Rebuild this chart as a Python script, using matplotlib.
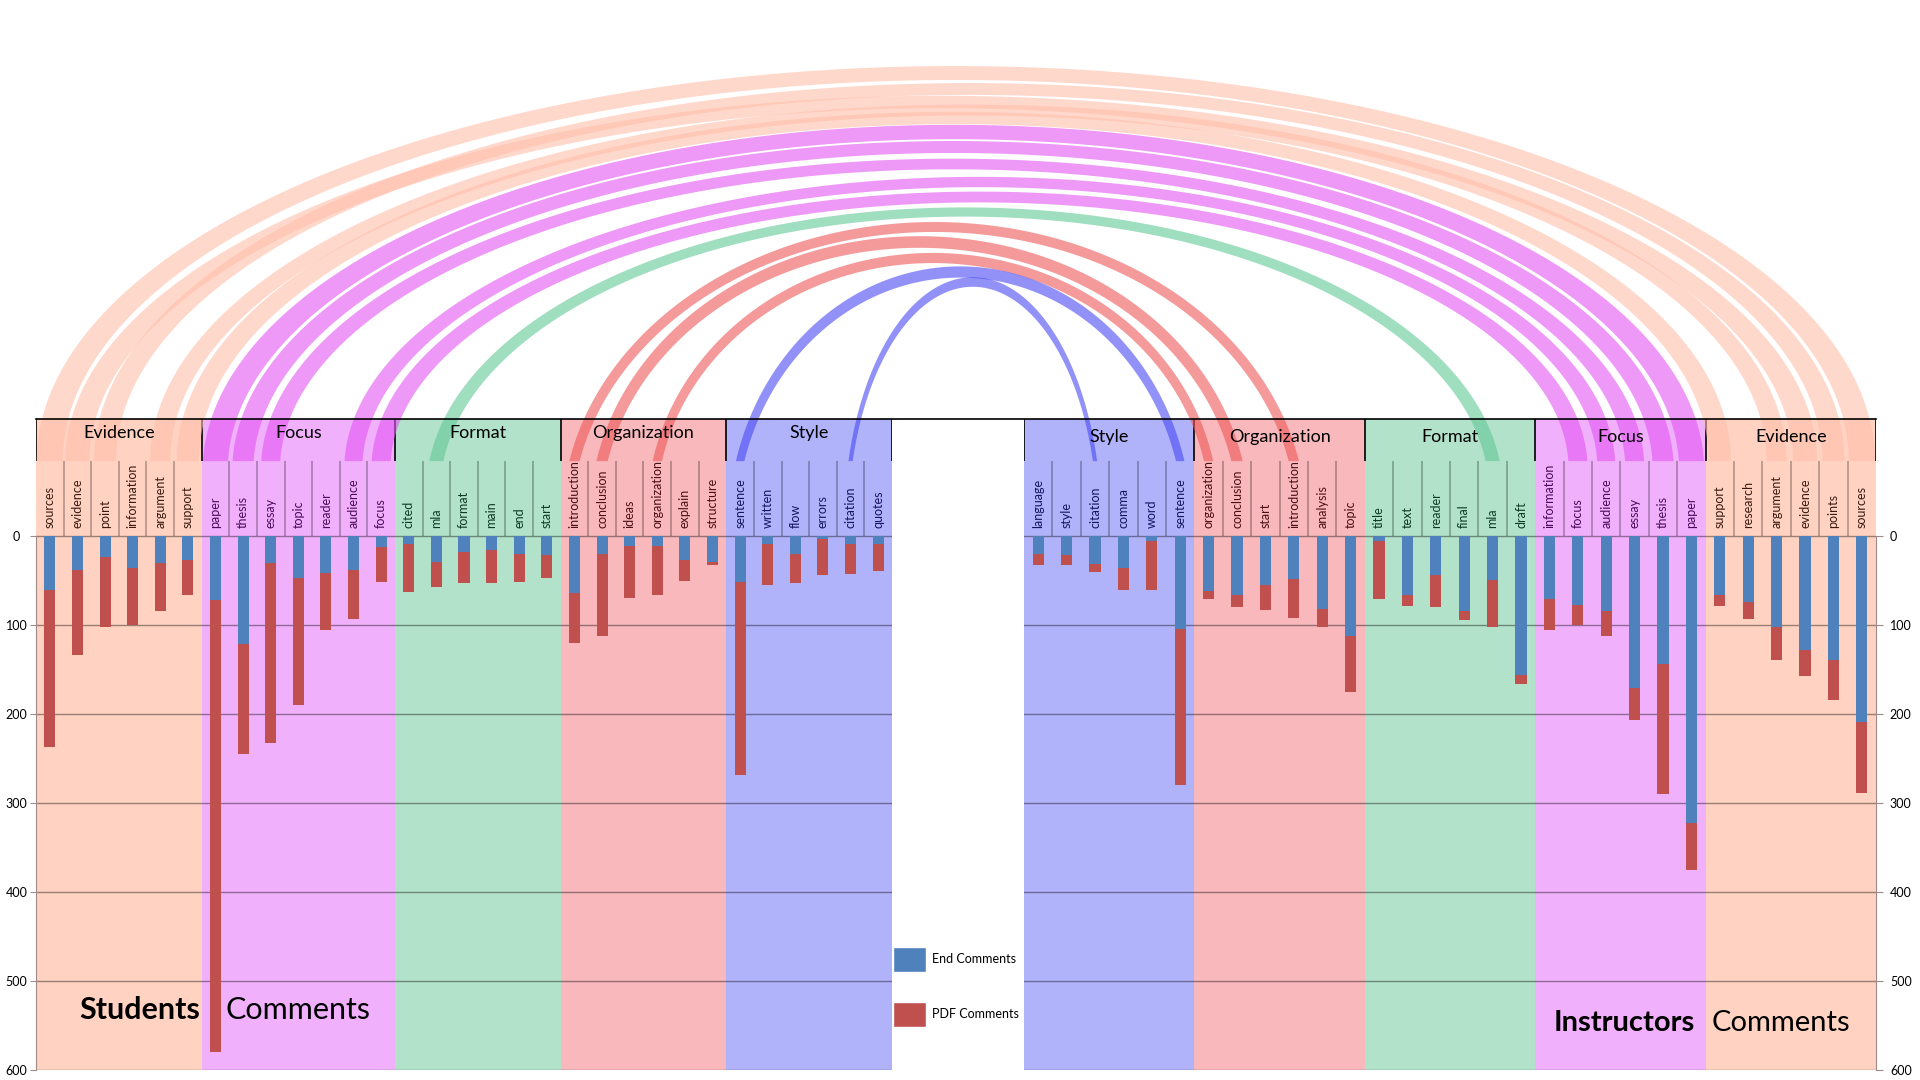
import numpy as np
import matplotlib.pyplot as plt
from matplotlib.patches import Patch, Polygon

plt.rcParams['font.family'] = ['Lato', 'DejaVu Sans']

# ---- students (left panel)
stu_groups = ['Evidence', 'Focus', 'Format', 'Organization', 'Style']
stu_words = [
    ['sources', 'evidence', 'point', 'information', 'argument', 'support'],
    ['paper', 'thesis', 'essay', 'topic', 'reader', 'audience', 'focus'],
    ['cited', 'mla', 'format', 'main', 'end', 'start'],
    ['introduction', 'conclusion', 'ideas', 'organization', 'explain', 'structure'],
    ['sentence', 'written', 'flow', 'errors', 'citation', 'quotes'],
]
stu_end = [61, 38, 24, 36, 31, 27,
           72, 122, 30, 47, 42, 38, 12,
           9, 29, 18, 16, 20, 22,
           64, 20, 11, 11, 27, 29,
           52, 9, 20, 3, 9, 9]
stu_pdf = [176, 96, 79, 64, 53, 40,
           508, 123, 203, 143, 64, 56, 40,
           54, 28, 35, 37, 32, 25,
           56, 93, 59, 55, 24, 4,
           217, 46, 33, 41, 34, 30]

# ---- instructors (right panel)
ins_groups = ['Style', 'Organization', 'Format', 'Focus', 'Evidence']
ins_words = [
    ['language', 'style', 'citation', 'comma', 'word', 'sentence'],
    ['organization', 'conclusion', 'start', 'introduction', 'analysis', 'topic'],
    ['title', 'text', 'reader', 'final', 'mla', 'draft'],
    ['information', 'focus', 'audience', 'essay', 'thesis', 'paper'],
    ['support', 'research', 'argument', 'evidence', 'points', 'sources'],
]
ins_end = [20, 22, 32, 36, 6, 105,
           62, 67, 55, 49, 82, 112,
           6, 67, 44, 84, 50, 156,
           71, 78, 84, 171, 144, 323,
           67, 74, 102, 128, 140, 209]
ins_pdf = [13, 11, 9, 25, 55, 175,
           9, 13, 28, 43, 21, 63,
           65, 12, 36, 11, 52, 11,
           35, 22, 29, 36, 146, 53,
           12, 19, 37, 29, 45, 80]

# ---- shared words linked by arcs
arc_group = ['Evidence'] * 5 + ['Focus'] * 5 + ['Format'] + ['Organization'] * 3 + ['Style'] * 2
arc_left = ['sources', 'evidence', 'point', 'argument', 'support',
            'paper', 'thesis', 'essay', 'audience', 'focus',
            'mla', 'introduction', 'conclusion', 'organization',
            'sentence', 'citation']
arc_right = ['sources', 'evidence', 'points', 'argument', 'support',
             'paper', 'thesis', 'essay', 'audience', 'focus',
             'mla', 'introduction', 'conclusion', 'organization',
             'sentence', 'citation']
arc_peak = [73, 102, 89, 110, 118, 132, 147, 164, 182, 197, 212, 227, 242, 258, 272, 282]
arc_width = [26, 24, 22, 20, 22, 25, 21, 19, 18, 19, 14, 10, 11, 9, 8, 4]

bg = {'Evidence': '#FFD2C2', 'Focus': '#F0B0FC', 'Format': '#B2E2CA',
      'Organization': '#F8B8BC', 'Style': '#B0B2FA'}
txt_c = {'Evidence': '#3a1a10', 'Focus': '#4a0a5a', 'Format': '#0f3a22',
         'Organization': '#4a0f14', 'Style': '#151560'}
arc_c = {'Evidence': '#FFBEAA', 'Focus': '#E353F3', 'Format': '#61C896',
         'Organization': '#EE5757', 'Style': '#4848F3'}
arc_drop = {'Evidence': 0.0, 'Focus': 0.03, 'Format': 0.12,
            'Organization': 0.25, 'Style': 0.35}
BLUE = '#4F81BD'
RED = '#C0504D'
HEAD_TOP = -131
CAT_BOT = -84

W, H = 1920, 1080
fig = plt.figure(figsize=(19.2, 10.8), dpi=100)


def box(x0, x1, ytop, ybot):
    return [x0 / W, 1 - ybot / H, (x1 - x0) / W, (ybot - ytop) / H]


ax_l = fig.add_axes(box(36, 892, 419.3, 1069.7))
ax_r = fig.add_axes(box(1024, 1876, 419.3, 1069.7))


def draw_panel(ax, groups, words, end, pdf, side):
    n = sum(len(w) for w in words)
    ax.set_xlim(0, n)
    ax.set_ylim(600, HEAD_TOP)
    x = np.arange(n) + 0.5
    i0 = 0
    bounds = [0]
    for g, ws in zip(groups, words):
        i1 = i0 + len(ws)
        ax.axvspan(i0, i1, color=bg[g], lw=0, zorder=0)
        ax.vlines(np.arange(i0 + 1, i1), CAT_BOT, 0, color='k', alpha=0.3, lw=1.2, zorder=1)
        for k, w in enumerate(ws):
            ax.text(i0 + k + 0.5, -9, w, rotation=90, ha='center', va='bottom',
                    fontsize=9, color=txt_c[g], zorder=2)
        bounds.append(i1)
        i0 = i1
    ax.vlines(bounds, HEAD_TOP, CAT_BOT, color='k', lw=1.2, zorder=6)
    ax.bar(x, end, width=0.4, color=BLUE, zorder=3)
    ax.bar(x, pdf, bottom=end, width=0.4, color=RED, zorder=3)

    ax.set_yticks(range(0, 700, 100))
    ax.set_xticks([])
    ax.yaxis.grid(True, color='k', alpha=0.4, lw=1)
    ax.set_axisbelow(True)
    for s in ax.spines.values():
        s.set_visible(False)
    spine = ax.spines[side]
    spine.set_visible(True)
    spine.set_bounds(0, 600)
    spine.set_color('#a08a8a')
    if side == 'left':
        ax.tick_params(axis='y', length=4, color='#a08a8a', pad=10, labelsize=9)
        for lbl in ax.get_yticklabels():
            lbl.set_ha('center')
    else:
        ax.yaxis.tick_right()
        ax.tick_params(axis='y', length=5, color='#a08a8a', pad=5, labelsize=9)
    return bounds


b_l = draw_panel(ax_l, stu_groups, stu_words, stu_end, stu_pdf, 'left')
b_r = draw_panel(ax_r, ins_groups, ins_words, ins_end, ins_pdf, 'right')

# overlay in pixel coordinates for arcs and header lines
ax_o = fig.add_axes([0, 0, 1, 1], zorder=5)
ax_o.set_xlim(0, W)
ax_o.set_ylim(H, 0)
ax_o.axis('off')
ax_o.patch.set_alpha(0)


def to_px(ax, x, y):
    dx, dy = ax.transData.transform((x, y))
    return dx, H - dy


def index_of(groups, words, g, w):
    i = 0
    for gg, ws in zip(groups, words):
        if gg == g:
            return i + ws.index(w)
        i += len(ws)


def arc_poly(xl, xr, base, peak, w, dfrac):
    rise = base - peak
    d = dfrac * rise
    b = rise + d
    a = (xr - xl) / 2 / np.sqrt(1 - (d / b) ** 2)
    cx, cy = (xl + xr) / 2, base + d
    t = 1.25 * w * b / a
    pts = []
    for A, B, rev in ((a + w / 2, b + t / 2, False), (a - w / 2, b - t / 2, True)):
        th0 = np.arcsin(min(d / B, 1))
        th = np.linspace(th0, np.pi - th0, 300)
        xy = np.column_stack([cx + A * np.cos(th), cy - B * np.sin(th)])
        pts.append(xy[::-1] if rev else xy)
    return np.vstack(pts)


base_y = to_px(ax_l, 0, CAT_BOT)[1]
for g, wl, wr, pk, wd in zip(arc_group, arc_left, arc_right, arc_peak, arc_width):
    il = index_of(stu_groups, stu_words, g, wl)
    ir = index_of(ins_groups, ins_words, g, wr)
    xl = to_px(ax_l, il + 0.5, 0)[0]
    xr = to_px(ax_r, ir + 0.5, 0)[0]
    ax_o.add_patch(Polygon(arc_poly(xl, xr, base_y, pk, wd, arc_drop[g]),
                           closed=True, fc=arc_c[g], ec='none', alpha=0.6))

# header top line and category titles
x0, ytop = to_px(ax_l, 0, HEAD_TOP)
x1 = to_px(ax_r, 30, HEAD_TOP)[0]
ax_o.plot([x0, x1], [ytop, ytop], color='k', lw=1.2)
for ax, groups, bounds, ylab in ((ax_l, stu_groups, b_l, -116), (ax_r, ins_groups, b_r, -111)):
    for g, a, b in zip(groups, bounds[:-1], bounds[1:]):
        ax_o.text((a + b) / 2, ylab, g, transform=ax.transData, ha='center', va='center',
                  fontsize=13, color='k', zorder=10)

# panel titles
ax_l.text(5.94, 533, 'Students', ha='right', va='center', fontsize=22, fontweight='bold', zorder=4)
ax_l.text(6.85, 533, 'Comments', ha='left', va='center', fontsize=22, zorder=4)
ax_r.text(23.63, 547, 'Instructors', ha='right', va='center', fontsize=21, fontweight='bold', zorder=4)
ax_r.text(24.2, 547, 'Comments', ha='left', va='center', fontsize=21, zorder=4)

fig.legend(handles=[Patch(fc=BLUE, ec='white'), Patch(fc=RED, ec='white')],
           labels=['End Comments', 'PDF Comments'], loc='upper left',
           bbox_to_anchor=(893 / W, 1 - 947 / H), frameon=False, fontsize=9,
           handlelength=2.6, handleheight=2.7, handletextpad=0.55,
           labelspacing=2.4, borderpad=0, borderaxespad=0)

fig.savefig('out.png', dpi=100)
